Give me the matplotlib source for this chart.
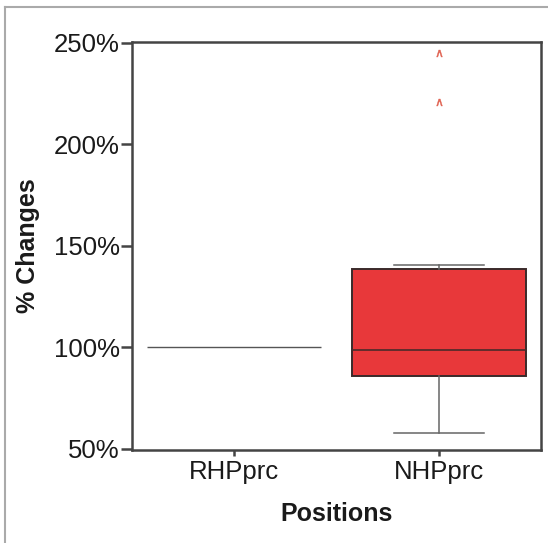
import matplotlib
matplotlib.use("Agg")
import matplotlib.pyplot as plt
from matplotlib.ticker import FuncFormatter
from matplotlib.lines import Line2D

# box statistics (% change)
categories = ["RHPprc", "NHPprc"]
medians = [100.0, 98.8]
q1s = [100.0, 86.1]
q3s = [100.0, 138.7]
whis_lo = [100.0, 57.7]
whis_hi = [100.0, 140.8]
outliers = [[], [221.0, 245.0]]
y_ticks = [50, 100, 150, 200, 250]

plt.rcParams["font.family"] = ["Liberation Sans", "DejaVu Sans"]

fig = plt.figure(figsize=(5.48, 5.43), dpi=100)
ax = fig.add_axes([0.2409, 0.1713, 0.7464, 0.7514])

stats = []
for i, name in enumerate(categories):
    stats.append({"label": name, "med": medians[i], "q1": q1s[i], "q3": q3s[i],
                  "whislo": whis_lo[i], "whishi": whis_hi[i], "fliers": outliers[i]})

bp = ax.bxp(stats, positions=[0, 1], widths=0.85, patch_artist=True, showcaps=True,
            boxprops=dict(facecolor="#e8383a", edgecolor="#3a2a2a", linewidth=1.4),
            medianprops=dict(color="#4a2a2a", linewidth=1.2),
            whiskerprops=dict(color="#666666", linewidth=1.1),
            capprops=dict(color="#666666", linewidth=1.1),
            capwidths=0.44,
            flierprops=dict(marker="$\\wedge$", markersize=5, markeredgecolor="#e0604f",
                            markerfacecolor="#e0604f", markeredgewidth=0.3, linestyle="none"))
# the flat RHPprc box is just a thin line
bp["boxes"][0].set_edgecolor("#555555")
bp["boxes"][0].set_linewidth(1.0)
for art in [bp["medians"][0], bp["caps"][0], bp["caps"][1], bp["whiskers"][0], bp["whiskers"][1]]:
    art.set_visible(False)

ax.set_xlim(-0.5, 1.5)
ax.set_ylim(49.5, 250.5)
ax.set_yticks(y_ticks)
ax.yaxis.set_major_formatter(FuncFormatter(lambda v, p: "%d%%" % v))
ax.set_xticks([0, 1])
ax.set_xticklabels(categories)

for s in ax.spines.values():
    s.set_linewidth(1.8)
    s.set_color("#444444")
ax.tick_params(axis="y", length=8, width=1.8, pad=1, labelsize=18.5, colors="#444444", labelcolor="#1a1a1a")
ax.tick_params(axis="x", length=4, width=1.8, pad=3, labelsize=18.5, colors="#444444", labelcolor="#1a1a1a")

ax.set_ylabel("% Changes", fontsize=18, fontweight="bold", labelpad=10, color="#1a1a1a")
ax.set_xlabel("Positions", fontsize=18, fontweight="bold", labelpad=13, color="#1a1a1a")

# thin grey frame on left and top of the picture
fig.add_artist(Line2D([5 / 548, 5 / 548], [0, 1 - 7 / 543], transform=fig.transFigure,
                      color="#aaaaaa", linewidth=1.5))
fig.add_artist(Line2D([5 / 548, 1], [1 - 7 / 543, 1 - 7 / 543], transform=fig.transFigure,
                      color="#aaaaaa", linewidth=1.5))

fig.savefig("out.png", dpi=100)
